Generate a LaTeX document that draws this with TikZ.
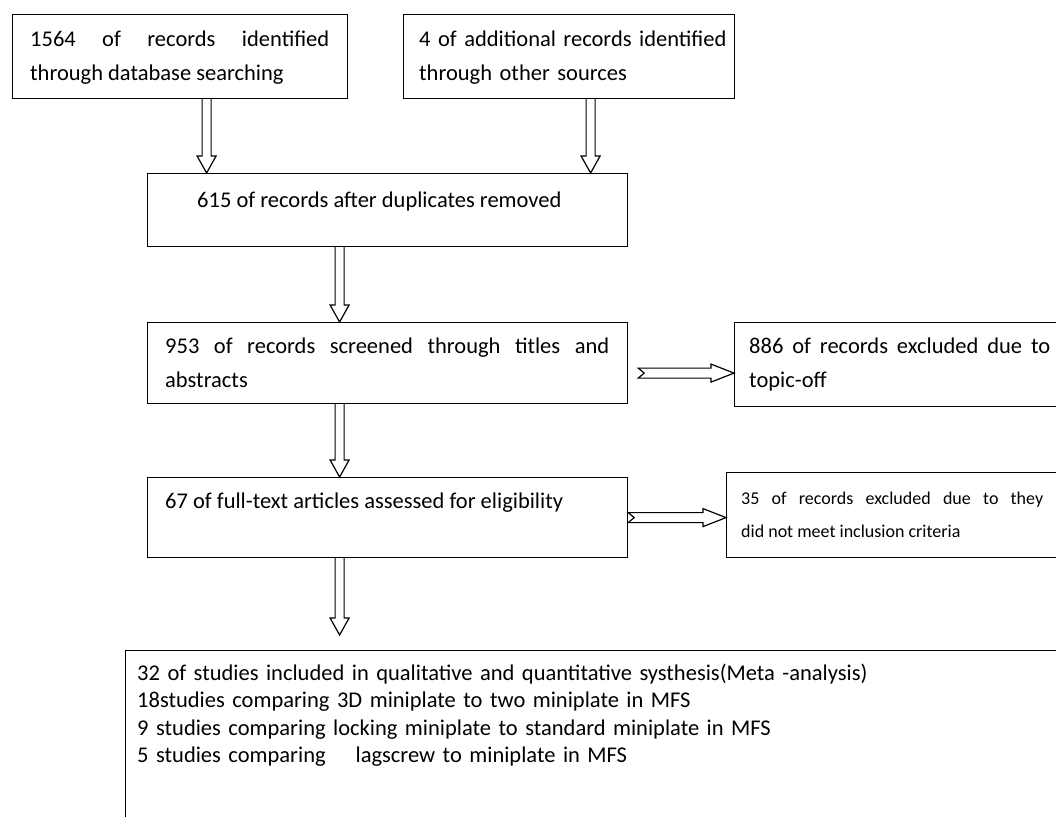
\documentclass[tikz,border=0pt]{standalone}
\usepackage{fontspec}
\setmainfont{Carlito}
\usetikzlibrary{calc}
\tikzset{
  box/.style={draw, line width=1.2pt, rectangle, inner sep=0pt, anchor=north west},
  txt/.style={anchor=base west, inner sep=0pt, font=\fontsize{22.5}{34}\selectfont},
  smalltxt/.style={anchor=base west, inner sep=0pt, font=\fontsize{18}{33}\selectfont},
  varrow/.style={draw, line width=1.2pt, line join=miter, to path={
    let \p1=(\tikztostart), \p2=(\tikztotarget) in
    (\x1-4.5pt,\y1) -- (\x1-4.5pt,\y2+17pt) -- (\x1-9.5pt,\y2+17pt) -- (\x1,\y2)
    -- (\x1+9.5pt,\y2+17pt) -- (\x1+4.5pt,\y2+17pt) -- (\x1+4.5pt,\y1)}},
  harrow/.style={draw, line width=1.2pt, line join=miter, to path={
    let \p1=(\tikztostart), \p2=(\tikztotarget) in
    (\x1,\y1+5pt) -- (\x2-23pt,\y1+5pt) -- (\x2-23pt,\y1+9pt) -- (\x2,\y1)
    -- (\x2-23pt,\y1-9pt) -- (\x2-23pt,\y1-5pt) -- (\x1,\y1-5pt) -- (\x1+6pt,\y1) -- cycle}},
}
\begin{document}
\begin{tikzpicture}[x=1pt,y=-1pt]
\useasboundingbox[fill=white] (0,0) rectangle (1056,816);
% boxes
\node[box, minimum width=335pt, minimum height=84pt] (a) at (12,14) {};
\node[box, minimum width=331pt, minimum height=84pt] (b) at (403,14) {};
\node[box, minimum width=480pt, minimum height=73pt] (c) at (147,173) {};
\node[box, minimum width=480pt, minimum height=81pt] (d) at (147,322) {};
\node[box, minimum width=400pt, minimum height=84pt] (e) at (734,322) {};
\node[box, minimum width=400pt, minimum height=85pt] (f) at (726,472) {};
\node[box, minimum width=480pt, minimum height=80pt] (g) at (147,477) {};
\node[box, minimum width=1000pt, minimum height=250pt] (h) at (125,650) {};
% texts
\node[txt, text width=299pt, align=justify] (at) at (30,47) {1564 of records identified\linebreak through database searching};
\node[txt, text width=330pt, align=left] (bt) at (419,47) {4 of additional records identified\\through other sources};
\node[txt] (ct) at (197,207) {615 of records after duplicates removed};
\node[txt, text width=444pt, align=justify] (dt) at (165,353) {953 of records screened through titles and\linebreak abstracts};
\node[txt, text width=301pt, align=justify] (et) at (749,353) {886 of records excluded due to\linebreak topic-off};
\node[smalltxt, text width=302pt, align=justify] (ft) at (741,504) {35 of records excluded due to they\linebreak did not meet inclusion criteria};
\node[txt] (gt) at (165,508) {67 of full-text articles assessed for eligibility};
\node[txt, font=\fontsize{22.5}{27.5}\selectfont, text width=900pt, align=left] (ht) at (137,680) {32 of studies included in qualitative and quantitative systhesis(Meta -analysis)\\18studies comparing 3D miniplate to two miniplate in MFS\\9 studies comparing locking miniplate to standard miniplate in MFS\\5 studies comparing\ \ \ \ lagscrew to miniplate in MFS};
% arrows
\draw[varrow] ([xshift=26.5pt]a.south) to (c.north);
\draw[varrow] ([xshift=21.5pt]b.south) to (c.north);
\draw[varrow] ([xshift=-48pt]c.south) to (d.north);
\draw[varrow] ([xshift=-48pt]d.south) to (g.north);
\draw[varrow] ([xshift=-48pt]g.south) to ([yshift=15pt]h.north);
\draw[harrow] ([xshift=10pt,yshift=-10pt]d.east) to (e.west);
\draw[harrow] (g.east) to (f.west);
\end{tikzpicture}
\end{document}
